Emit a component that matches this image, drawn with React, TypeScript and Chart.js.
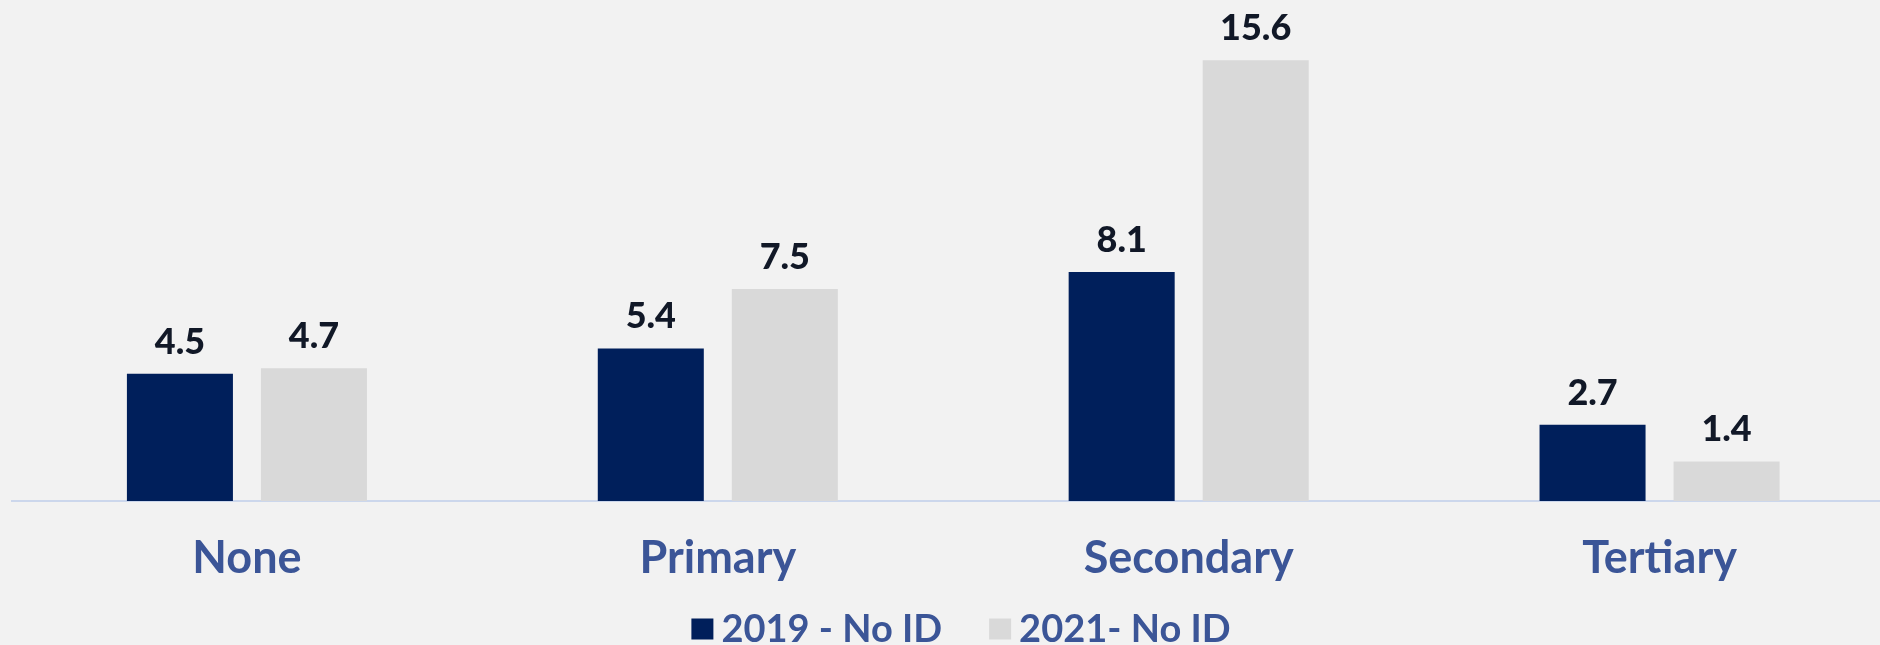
import React, { useEffect, useRef } from "react";
import { Chart, registerables } from "chart.js";

Chart.register(...registerables);

const categories = ["None", "Primary", "Secondary", "Tertiary"];
const series2019 = [4.5, 5.4, 8.1, 2.7];
const series2021 = [4.7, 7.5, 15.6, 1.4];
const seriesLabels = ["2019 - No ID", "2021- No ID"];
const seriesColors = ["#001F5B", "#D9D9D9"];

const FONT = "Lato, 'Open Sans', 'DejaVu Sans', sans-serif";
const LABEL_BLUE = "#3B5597";

const valueLabelPlugin = {
  id: "valueLabels",
  afterDatasetsDraw(chart: any) {
    const ctx = chart.ctx;
    ctx.save();
    ctx.font = `900 36px ${FONT}`;
    ctx.fillStyle = "#111827";
    ctx.textAlign = "center";
    ctx.textBaseline = "alphabetic";
    chart.data.datasets.forEach((ds: any, i: number) => {
      const meta = chart.getDatasetMeta(i);
      meta.data.forEach((bar: any, j: number) => {
        ctx.fillText(Number(ds.data[j]).toFixed(1), bar.x, bar.y - 20);
      });
    });
    ctx.restore();
  },
};

const customLegendPlugin = {
  id: "customLegend",
  afterDraw(chart: any) {
    const ctx = chart.ctx;
    ctx.save();
    ctx.font = `bold 38px ${FONT}`;
    const boxW = 22;
    const boxH = 21;
    const gapBoxText = 8;
    const gapItems = 47;
    const items = chart.data.datasets.map((ds: any) => ({
      label: ds.label,
      color: ds.backgroundColor,
      w: boxW + gapBoxText + ctx.measureText(ds.label).width,
    }));
    const total =
      items.reduce((s: number, it: any) => s + it.w, 0) + gapItems * (items.length - 1);
    const centerX = 961;
    const midY = 629;
    let x = centerX - total / 2;
    items.forEach((it: any) => {
      ctx.fillStyle = it.color;
      ctx.fillRect(x, midY - boxH / 2, boxW, boxH);
      ctx.fillStyle = LABEL_BLUE;
      ctx.textAlign = "left";
      ctx.textBaseline = "alphabetic";
      ctx.fillText(it.label, x + boxW + gapBoxText, midY + 13);
      x += it.w + gapItems;
    });
    ctx.restore();
  },
};

export default function App() {
  const canvasRef = useRef<HTMLCanvasElement>(null);

  useEffect(() => {
    if (!canvasRef.current) return;
    const chart = new Chart(canvasRef.current, {
      type: "bar",
      data: {
        labels: categories,
        datasets: [
          {
            label: seriesLabels[0],
            data: series2019,
            backgroundColor: seriesColors[0],
            categoryPercentage: 0.5693,
            barPercentage: 0.791,
          },
          {
            label: seriesLabels[1],
            data: series2021,
            backgroundColor: seriesColors[1],
            categoryPercentage: 0.5693,
            barPercentage: 0.791,
          },
        ],
      },
      options: {
        responsive: false,
        animation: false,
        devicePixelRatio: 1,
        layout: { padding: { left: 11.5, right: 0, top: 0, bottom: 30 } },
        plugins: {
          legend: { display: false },
          tooltip: { enabled: false },
        },
        scales: {
          x: {
            grid: { display: false, drawTicks: false },
            border: { display: true, color: "#CCD7EC", width: 2 },
            ticks: {
              color: LABEL_BLUE,
              font: { family: FONT, size: 45, weight: "bold" },
              padding: 30,
            },
          },
          y: {
            display: false,
            min: 0,
            max: 17.73,
          },
        },
      },
      plugins: [valueLabelPlugin, customLegendPlugin],
    });
    return () => chart.destroy();
  }, []);

  return (
    <div
      style={{
        position: "fixed",
        left: 0,
        top: 0,
        width: 1880,
        height: 645,
        overflow: "hidden",
        background: "#F2F2F2",
      }}
    >
      <canvas ref={canvasRef} width={1895} height={645} style={{ display: "block" }} />
    </div>
  );
}
